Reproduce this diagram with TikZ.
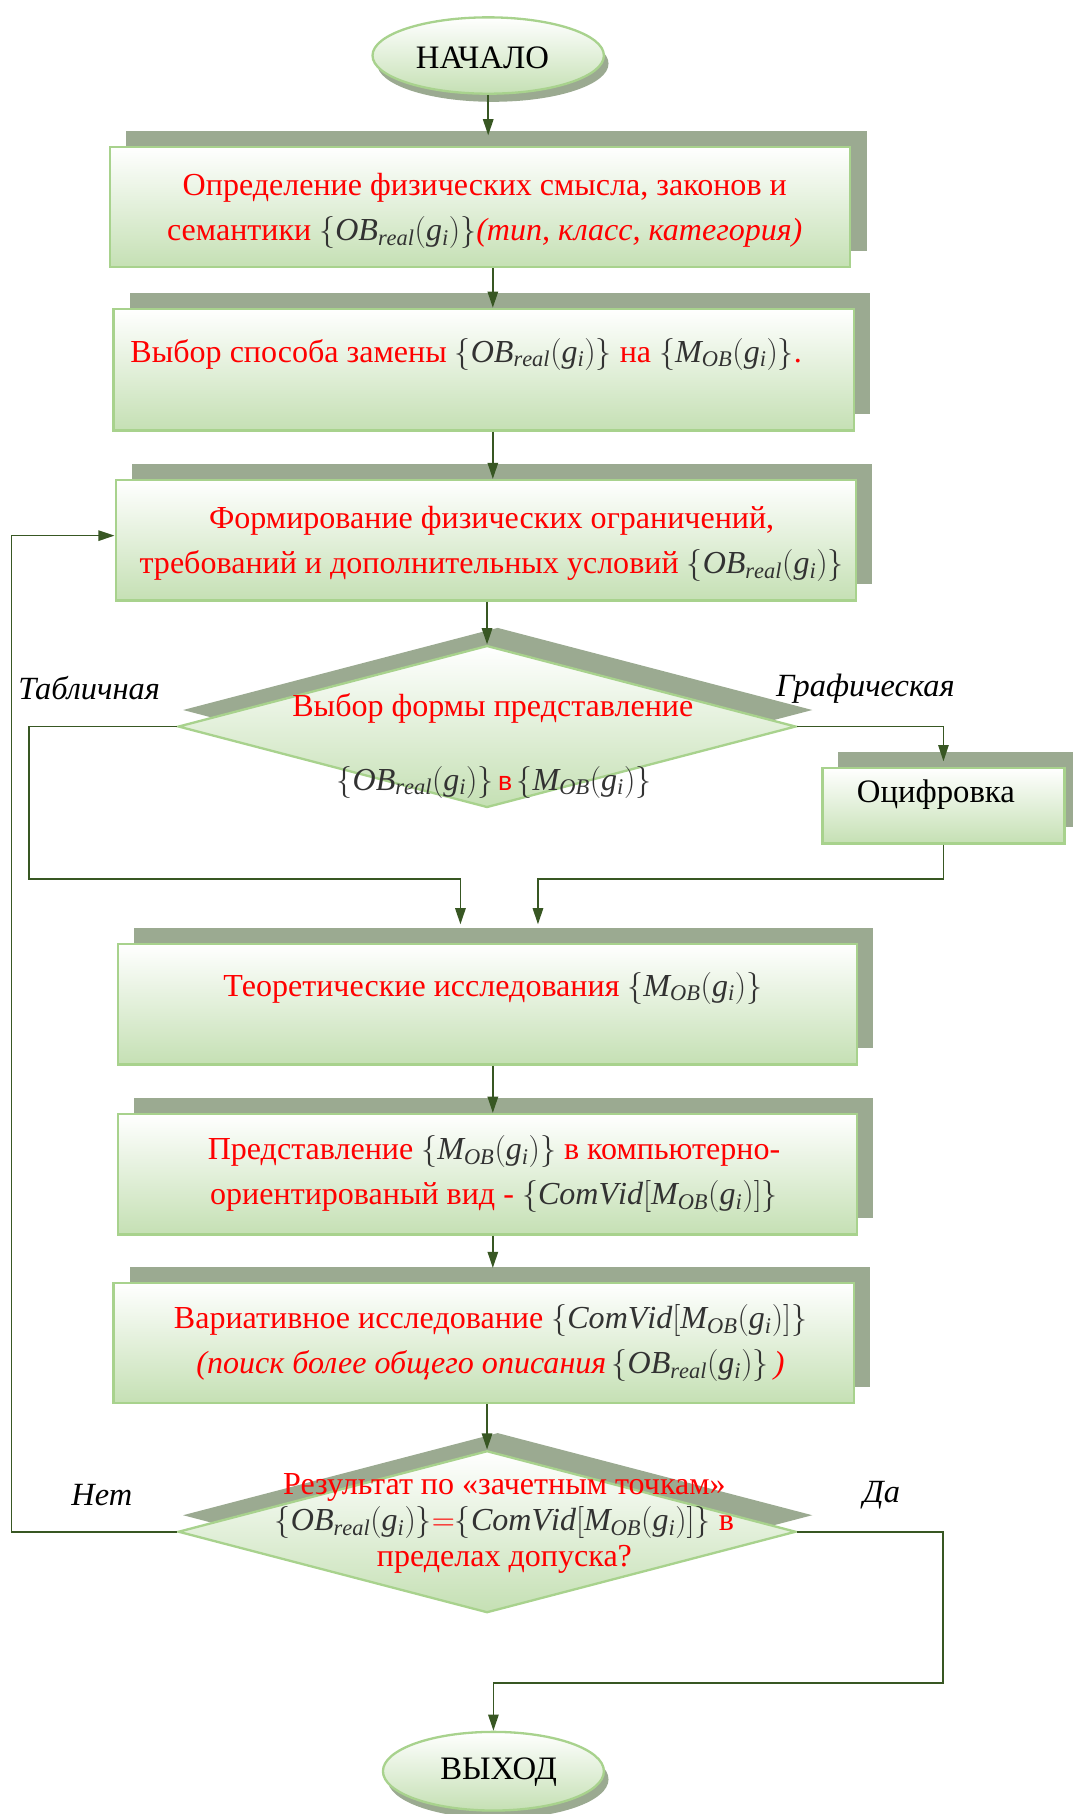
\RequirePackage{fix-cm}
\documentclass[tikz,border=0pt]{standalone}
\usepackage{amsmath}
\usepackage{fontspec}
\setmainfont{Liberation Serif}
\newfontfamily\arialfont{Liberation Sans}
\usetikzlibrary{shapes.geometric, arrows.meta, shadows, calc}

\definecolor{gborder}{RGB}{168,210,141}
\definecolor{gfill}{RGB}{197,224,180}
\definecolor{gshadow}{RGB}{155,170,145}
\definecolor{garrow}{RGB}{56,87,35}
\definecolor{tred}{RGB}{255,0,0}
\definecolor{mathgray}{RGB}{50,50,50}

% formula pieces
\newcommand{\OBr}{\textcolor{mathgray}{$\{\mathit{OB}_{\mathit{real}}(\mathit{g}_{\mathit{i}})\}$}}
\newcommand{\MOB}{\textcolor{mathgray}{$\{\mathit{M}_{\mathit{OB}}(\mathit{g}_{\mathit{i}})\}$}}
\newcommand{\CVM}{\textcolor{mathgray}{$\{\mathit{ComVid}[\mathit{M}_{\mathit{OB}}(\mathit{g}_{\mathit{i}})]\}$}}

\begin{document}
\begin{tikzpicture}[x=1pt,y=1pt,
  shade/.style={draw=gborder, line width=2pt, top color=white, bottom color=gfill},
  procbox/.style={rectangle, shade, minimum width=640, minimum height=104,
    general shadow={fill=gshadow, shadow xshift=14pt, shadow yshift=14pt}},
  smallbox/.style={rectangle, shade, minimum width=209, minimum height=65,
    general shadow={fill=gshadow, shadow xshift=13pt, shadow yshift=14pt}},
  decision/.style={diamond, shade, inner sep=0pt, minimum width=534, minimum height=140,
    general shadow={fill=gshadow, shadow xshift=9pt, shadow yshift=14pt, shadow scale=1.02}},
  terminal/.style={ellipse, shade, inner sep=0pt,
    general shadow={fill=gshadow, shadow xshift=4pt, shadow yshift=-7pt}},
  txt/.style={text=tred, align=center, font=\fontsize{27.7}{39}\selectfont},
  btxt/.style={text=black, align=center, font=\fontsize{28.3}{32}\selectfont},
  lbl/.style={text=black, font=\fontsize{28}{32}\selectfont\itshape},
  arr/.style={draw=garrow, line width=1.4pt, -{Triangle[length=14pt,width=9pt]}},
]
\useasboundingbox (0,0) rectangle (927,-1568);

% shapes
\node[terminal, minimum width=200, minimum height=66] (start) at (422,-48) {};
\node[procbox] (b1) at (415,-179) {};
\node[procbox, minimum height=105] (b2) at (418,-319.5) {};
\node[procbox] (b3) at (420,-467) {};
\node[decision] (d1) at (421,-628) {};
\node[smallbox] (oc) at (815.5,-696.5) {};
\node[procbox, minimum width=639] (b4) at (421.5,-868) {};
\node[procbox, minimum width=639] (b5) at (421.5,-1015) {};
\node[procbox] (b6) at (418,-1161) {};
\node[decision] (d2) at (421,-1324) {};
\node[terminal, minimum width=191, minimum height=68] (exit) at (426.5,-1531) {};

% texts
\node[btxt] (startt) at (417,-50) {НАЧАЛО};
\node[txt] (b1t) at (419,-182) {Определение физических смысла, законов и\\семантики \OBr\textit{(тип, класс, категория)}};
\node[txt] (b2t) at (403,-306) {Выбор способа замены \OBr{} на \MOB.};
\node[txt] (b3t) at (425,-470) {Формирование физических ограничений,\\требований и дополнительных условий \OBr};
\node[txt] (d1ta) at (426,-612) {Выбор формы представление};
\node[txt] (d1tb) at (427,-676) {\OBr{\arialfont\fontsize{23}{26}\selectfont\,в\,}\MOB};
\node[btxt] (oct) at (809,-687) {Оцифровка};
\node[txt] (b4t) at (426,-854) {Теоретические исследования \MOB};
\node[txt] (b5t) at (427,-1015) {Представление \MOB{} в компьютерно-\\ориентированый вид - \CVM};
\node[txt] (b6t) at (424,-1161) {Вариативное исследование \CVM\\\textit{(поиск более общего описания}\,\OBr\,\textit{)}};
\node[txt, font=\fontsize{27.7}{31}\selectfont] (d2t) at (436,-1317) {Результат по «зачетным точкам»\\\OBr$=$\CVM{} в\\пределах допуска?};
\node[btxt] (exitt) at (431,-1532) {ВЫХОД};

% branch labels
\node[lbl] (ltab) at (77,-595) {Табличная};
\node[lbl] (lgr) at (748,-595) {Графическая};
\node[lbl] (lno) at (88,-1292) {Нет};
\node[lbl] (lyes) at (762,-1292) {Да};

% helper points
\coordinate (colx) at (426,0);
\coordinate (ta) at (25,-760);
\coordinate (tb) at (398,-760);
\coordinate (ga) at (465,-760);
\coordinate (lx) at (10,-463);
\coordinate (ya) at (815,-1455);

% connectors
\draw[arr, shorten >=9pt] (start.south) -- (start.south |- b1.north);
\draw[arr] (b1.south -| colx) -- (b2.north -| colx);
\draw[arr] (b2.south -| colx) -- (b3.north -| colx);
\draw[arr] (b3.south -| d1.north) -- (d1.north);
\draw[arr, shorten >=16pt] (d1.west) -| (ta) -- (tb) -- (tb |- b4.north);
\draw[arr, shorten >=5pt] (d1.east) -| (oc.north);
\draw[arr, shorten >=16pt] (oc.south) |- (ga) -- (ga |- b4.north);
\draw[arr] (b4.south -| colx) -- (b5.north -| colx);
\draw[arr, shorten >=12pt] (b5.south -| colx) -- (b6.north -| colx);
\draw[arr] (b6.south -| d2.north) -- (d2.north);
\draw[arr] (d2.west) -| (lx) -- (lx -| b3.west);
\draw[arr] (d2.east) -| (ya) -- (ya -| exit.north) -- (exit.north);
\end{tikzpicture}
\end{document}
